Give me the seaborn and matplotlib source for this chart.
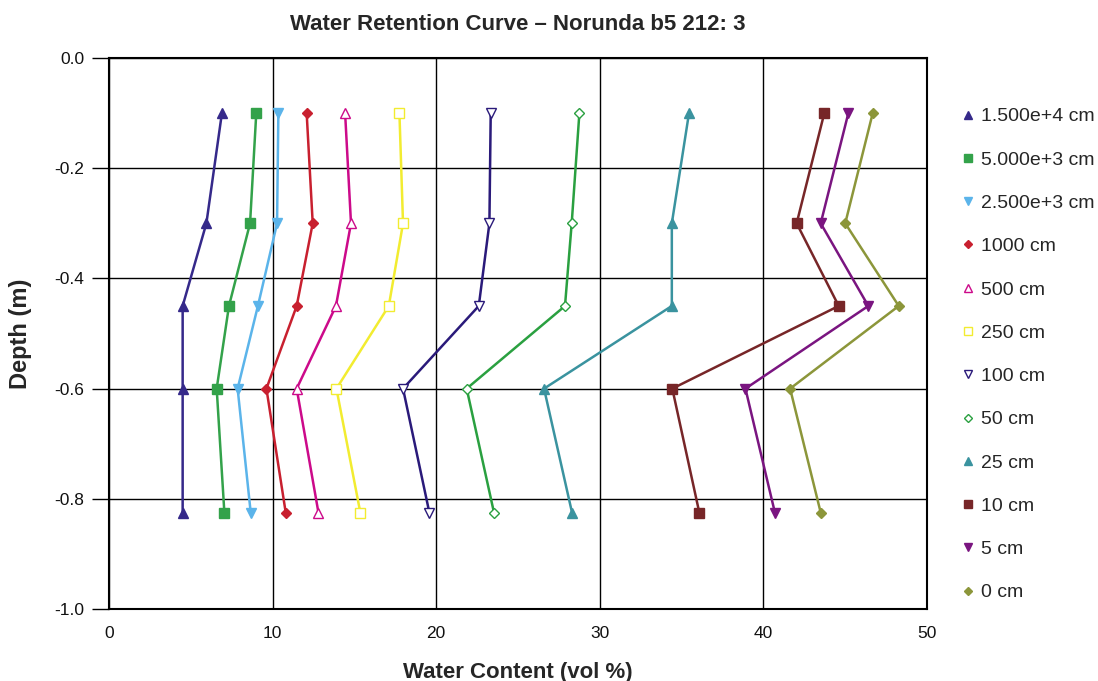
import matplotlib
matplotlib.use("Agg")
import matplotlib.pyplot as plt
from matplotlib.lines import Line2D
import seaborn as sns
import pandas as pd

depth = [-0.1, -0.3, -0.45, -0.6, -0.825]
labels = ["1.500e+4 cm", "5.000e+3 cm", "2.500e+3 cm", "1000 cm", "500 cm", "250 cm",
          "100 cm", "50 cm", "25 cm", "10 cm", "5 cm", "0 cm"]
s15000 = [6.9, 5.95, 4.5, 4.5, 4.5]
s5000 = [9.0, 8.62, 7.33, 6.58, 7.05]
s2500 = [10.35, 10.27, 9.1, 7.86, 8.66]
s1000 = [12.08, 12.45, 11.47, 9.62, 10.8]
s500 = [14.43, 14.79, 13.87, 11.47, 12.8]
s250 = [17.75, 17.97, 17.1, 13.9, 15.36]
s100 = [23.33, 23.25, 22.6, 17.97, 19.58]
s50 = [28.75, 28.28, 27.87, 21.86, 23.53]
s25 = [35.45, 34.4, 34.4, 26.59, 28.3]
s10 = [43.72, 42.03, 44.6, 34.43, 36.08]
s5 = [45.19, 43.5, 46.41, 38.9, 40.7]
s0 = [46.68, 45.0, 48.27, 41.63, 43.5]
series = [s15000, s5000, s2500, s1000, s500, s250, s100, s50, s25, s10, s5, s0]

colors = ["#35298a", "#33a24a", "#5bb4ea", "#c8202f", "#cc0a8a", "#f2ec30",
          "#2a1a7a", "#2aa040", "#3a939f", "#772628", "#7a1580", "#8c963a"]
markers = ["^", "s", "v", "D", "^", "s", "v", "D", "^", "s", "v", "D"]
filled = [True, True, True, True, False, False, False, False, True, True, True, True]
msizes = [7, 7, 7, 5, 7, 7, 7, 5, 7, 7, 7, 5]

sns.set_theme(style="white")
plt.rcParams["font.family"] = ["Liberation Sans", "DejaVu Sans"]

fig = plt.figure(figsize=(10.98, 6.81), dpi=100)
ax = fig.add_axes([0.0993, 0.1057, 0.7450, 0.8091])

handles = []
for lab, vals, c, m, f, ms in zip(labels, series, colors, markers, filled, msizes):
    df = pd.DataFrame({"x": vals, "y": depth})
    sns.lineplot(data=df, x="x", y="y", sort=False, estimator=None, ax=ax,
                 color=c, lw=1.8, marker=m, markersize=ms,
                 markerfacecolor=(c if f else "white"), markeredgecolor=c,
                 markeredgewidth=1.0)
    handles.append(Line2D([], [], ls="none", marker=m, markersize=ms - 1,
                          markerfacecolor=(c if f else "white"), markeredgecolor=c,
                          markeredgewidth=1.0, label=lab))

ax.set_xlim(0, 50)
ax.set_ylim(-1.0, 0.0)
ax.set_xticks([0, 10, 20, 30, 40, 50])
ax.set_yticks([0.0, -0.2, -0.4, -0.6, -0.8, -1.0])
ax.set_yticklabels(["0.0", "-0.2", "-0.4", "-0.6", "-0.8", "-1.0"])
ax.grid(True, color="black", lw=1.0)
ax.set_axisbelow(True)
for sp in ax.spines.values():
    sp.set_color("black")
    sp.set_linewidth(1.5)
ax.tick_params(axis="y", which="major", direction="out", length=12, width=1.0,
               color="black", left=True, labelsize=12.5, labelcolor="#111111", pad=6)
ax.tick_params(axis="x", which="major", length=0, labelsize=12.5, labelcolor="#111111", pad=12)

ax.set_xlabel("Water Content (vol %)", fontsize=16, fontweight="bold", labelpad=15)
ax.set_ylabel("Depth (m)", fontsize=17, fontweight="bold", labelpad=16)
ax.set_title("Water Retention Curve \u2013 Norunda b5 212: 3", fontsize=16,
             fontweight="bold", pad=20)

fig.legend(handles=handles, loc="upper left", bbox_to_anchor=(0.867, 0.856),
           frameon=False, fontsize=14, labelspacing=1.32, handlelength=0.7,
           handletextpad=0.3, borderpad=0)

fig.savefig("out.png", dpi=100)
